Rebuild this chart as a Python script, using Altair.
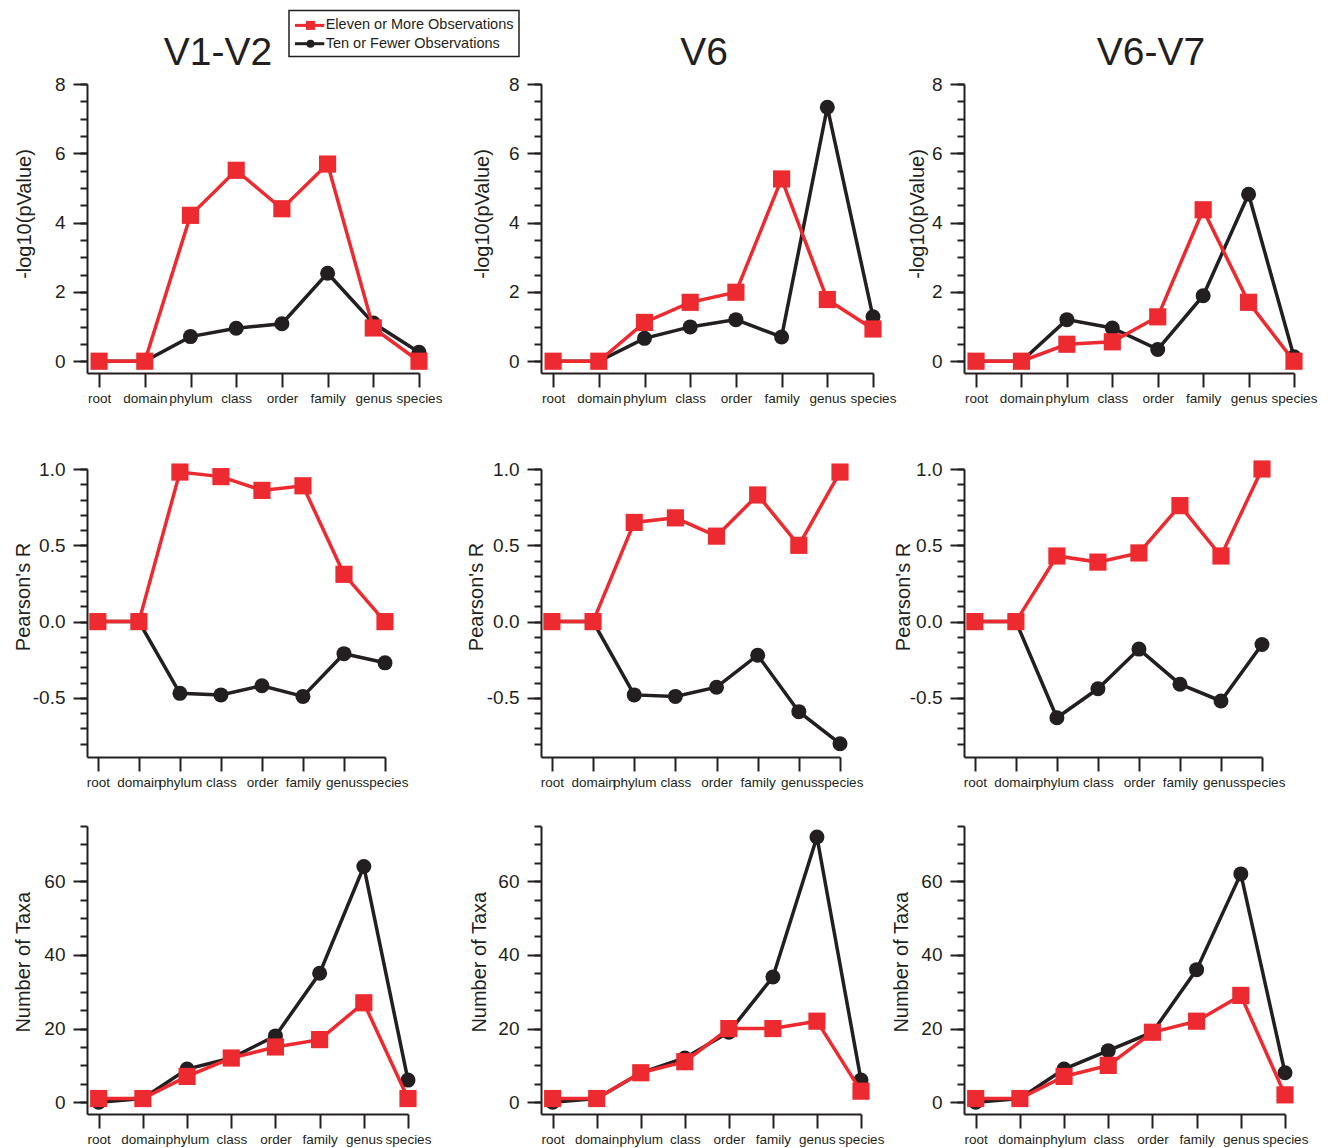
import json
import altair as alt
import pandas as pd

CATEGORIES = ["root", "domain", "phylum", "class", "order", "family", "genus", "species"]
REGIONS = ["V1-V2", "V6", "V6-V7"]
SERIES = ["Eleven or More Observations", "Ten or Fewer Observations"]
METRIC_TITLES = ["-log10(pValue)", "Pearson's R", "Number of Taxa"]

# -log10(pValue)
PVAL_V1V2_ELEVEN = [0, 0, 4.21, 5.51, 4.40, 5.69, 0.96, 0.0]
PVAL_V1V2_TEN = [0, 0, 0.71, 0.95, 1.08, 2.54, 1.10, 0.26]
PVAL_V6_ELEVEN = [0, 0, 1.12, 1.70, 1.99, 5.26, 1.78, 0.93]
PVAL_V6_TEN = [0, 0, 0.66, 0.99, 1.20, 0.70, 7.33, 1.28]
PVAL_V6V7_ELEVEN = [0, 0, 0.49, 0.56, 1.28, 4.37, 1.70, 0.0]
PVAL_V6V7_TEN = [0, 0, 1.20, 0.96, 0.34, 1.89, 4.82, 0.13]

# Pearson's R
R_V1V2_ELEVEN = [0, 0, 0.98, 0.95, 0.86, 0.89, 0.31, 0.0]
R_V1V2_TEN = [0, 0, -0.47, -0.48, -0.42, -0.49, -0.21, -0.27]
R_V6_ELEVEN = [0, 0, 0.65, 0.68, 0.56, 0.83, 0.50, 0.98]
R_V6_TEN = [0, 0, -0.48, -0.49, -0.43, -0.22, -0.59, -0.80]
R_V6V7_ELEVEN = [0, 0, 0.43, 0.39, 0.45, 0.76, 0.43, 1.0]
R_V6V7_TEN = [0, 0, -0.63, -0.44, -0.18, -0.41, -0.52, -0.15]

# Number of taxa
TAXA_V1V2_ELEVEN = [1, 1, 7, 12, 15, 17, 27, 1]
TAXA_V1V2_TEN = [0, 1, 9, 12, 18, 35, 64, 6]
TAXA_V6_ELEVEN = [1, 1, 8, 11, 20, 20, 22, 3]
TAXA_V6_TEN = [0, 1, 8, 12, 19, 34, 72, 6]
TAXA_V6V7_ELEVEN = [1, 1, 7, 10, 19, 22, 29, 2]
TAXA_V6V7_TEN = [0, 1, 9, 14, 19, 36, 62, 8]

DATA = [
    [(PVAL_V1V2_ELEVEN, PVAL_V1V2_TEN), (PVAL_V6_ELEVEN, PVAL_V6_TEN), (PVAL_V6V7_ELEVEN, PVAL_V6V7_TEN)],
    [(R_V1V2_ELEVEN, R_V1V2_TEN), (R_V6_ELEVEN, R_V6_TEN), (R_V6V7_ELEVEN, R_V6V7_TEN)],
    [(TAXA_V1V2_ELEVEN, TAXA_V1V2_TEN), (TAXA_V6_ELEVEN, TAXA_V6_TEN), (TAXA_V6V7_ELEVEN, TAXA_V6V7_TEN)],
]

RED = "#EC2A2F"
DARK = "#231F20"
FONT = "Liberation Sans"

INT_EXPR = "format(datum.value, 'd')"
DEC_EXPR = "datum.value < 0 ? '-' + format(-datum.value, '.1f') : format(datum.value, '.1f')"
X_LABEL_EXPR = json.dumps(CATEGORIES) + "[datum.value]"

ROWS = [
    {"domain": [-0.34, 8], "majors": [0, 2, 4, 6, 8], "minors": [k * 0.5 for k in range(17)],
     "expr": INT_EXPR, "widths": [332, 332, 330], "height": 289, "title_y": 129.5},
    {"domain": [-0.887, 1.0], "majors": [-0.5, 0, 0.5, 1.0], "minors": [round(-0.8 + 0.1 * k, 1) for k in range(19)],
     "expr": DEC_EXPR, "widths": [298, 299, 298], "height": 288, "title_y": 127.5},
    {"domain": [-3.2, 75], "majors": [0, 20, 40, 60], "minors": [5 * k for k in range(16)],
     "expr": INT_EXPR, "widths": [321, 320, 321], "height": 288, "title_y": 135.7},
]
TITLE_X = [[-73, -69, -57], [-74, -75, -71], [-74, -72, -73]]
TITLE_CENTER = [131, 163, 187]
COL_GAPS = [122, 91]
ROW_GAPS = [96, 69]


def legend_layers():
    leg = pd.DataFrame({"label": SERIES})
    layers = [
        alt.Chart(leg.head(1)).mark_rect(fill="white", stroke=DARK, strokeWidth=1.5).encode(
            x=alt.value(202), x2=alt.value(432), y=alt.value(-73.6), y2=alt.value(-27.6))
    ]
    entries = [(SERIES[0], RED, "square", -58.6, 81), (SERIES[1], DARK, "circle", -40.3, 64)]
    for label, color, shape, yv, size in entries:
        d = leg[leg["label"] == label]
        layers.append(alt.Chart(d).mark_rule(color=color, strokeWidth=3).encode(
            x=alt.value(208), x2=alt.value(237.3), y=alt.value(yv)))
        layers.append(alt.Chart(d).mark_point(shape=shape, filled=True, size=size, color=color, opacity=1).encode(
            x=alt.value(223.5), y=alt.value(yv)))
        layers.append(alt.Chart(d).mark_text(align="left", baseline="middle", fontSize=14.5, font=FONT, color=DARK).encode(
            x=alt.value(238.7), y=alt.value(yv), text="label:N"))
    return layers


def title_layer(c):
    d = pd.DataFrame({"region": [REGIONS[c]]})
    return alt.Chart(d).mark_text(align="center", baseline="alphabetic", fontSize=39, font=FONT,
                                  color=DARK).encode(
        x=alt.value(TITLE_CENTER[c]), y=alt.value(-19), text="region:N")


def panel(r, c):
    spec = ROWS[r]
    eleven, ten = DATA[r][c]
    df = pd.DataFrame({
        "idx": list(range(len(CATEGORIES))) * 2,
        "category": CATEGORIES * 2,
        "series": [SERIES[0]] * len(CATEGORIES) + [SERIES[1]] * len(CATEGORIES),
        "value": list(eleven) + list(ten),
    })
    base = alt.Chart(df)
    xenc = alt.X("idx:Q",
                 scale=alt.Scale(domain=[-0.265, 7], nice=False, zero=False),
                 axis=alt.Axis(values=list(range(8)), labelExpr=X_LABEL_EXPR, tickSize=14,
                               labelFontSize=13.5, labelPadding=4, labelFlush=False,
                               labelOverlap=False, title=None, grid=False))
    yscale = alt.Scale(domain=spec["domain"], nice=False, zero=False)
    major = alt.Axis(orient="left", values=spec["majors"], labelExpr=spec["expr"], tickSize=14,
                     labelFontSize=19, labelPadding=8, labelFlush=False, labelOverlap=False,
                     title=METRIC_TITLES[r], titleFontSize=20, titleX=TITLE_X[r][c],
                     titleY=spec["title_y"], titleAngle=-90, titleBaseline="top",
                     titleAlign="center", grid=False)
    minor = alt.Axis(orient="left", values=spec["minors"], labels=False, tickSize=7,
                     domain=False, title=None, grid=False)

    def yenc(axis):
        return alt.Y("value:Q", scale=yscale, axis=axis)

    ten_df = base.transform_filter(alt.datum.series == SERIES[1])
    el_df = base.transform_filter(alt.datum.series == SERIES[0])
    layers = [
        ten_df.mark_line(color=DARK, strokeWidth=3.5).encode(x=xenc, y=yenc(major)),
        ten_df.mark_circle(size=225, color=DARK, opacity=1).encode(x=xenc, y=yenc(minor)),
        el_df.mark_line(color=RED, strokeWidth=3.5).encode(x=xenc, y=yenc(None)),
        el_df.mark_square(size=295, color=RED, opacity=1).encode(x=xenc, y=yenc(None)),
    ]
    if r == 0:
        layers.append(title_layer(c))
    if r == 0 and c == 0:
        layers += legend_layers()
    props = {"width": spec["widths"][c], "height": spec["height"]}
    return alt.layer(*layers).resolve_axis(y="independent").properties(**props)


def spacer(w, h):
    return alt.Chart(pd.DataFrame({"s": [0]})).mark_point(opacity=0).encode(
        x=alt.value(0), y=alt.value(0)).properties(width=w, height=h)


cells = []
for R in range(5):
    for C in range(5):
        if R % 2 == 0 and C % 2 == 0:
            cells.append(panel(R // 2, C // 2))
        else:
            w = COL_GAPS[C // 2] if C % 2 else 1
            h = ROW_GAPS[R // 2] if R % 2 else 1
            cells.append(spacer(w, h))

chart = alt.concat(*cells, columns=5, spacing=0, bounds="flush", align="each").properties(
    padding={"left": 4, "top": 1, "right": 5, "bottom": 5}
).configure_view(stroke=None).configure_axis(
    domainColor=DARK, tickColor=DARK, labelColor=DARK, titleColor=DARK,
    domainWidth=2, tickWidth=2, labelFont=FONT, titleFont=FONT, titleFontWeight="normal",
    grid=False
)

chart.save("out.html", embed_options={"renderer": "svg", "actions": False})
